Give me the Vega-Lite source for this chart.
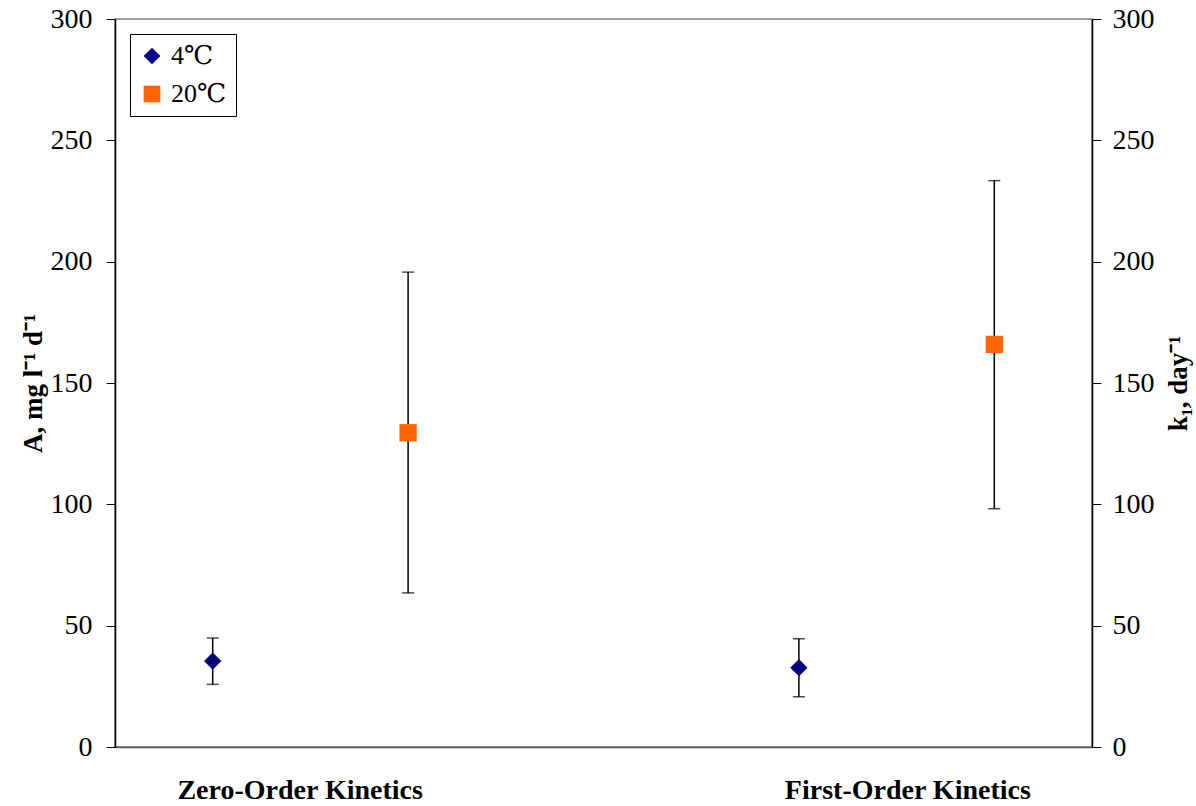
{
  "$schema": "https://vega.github.io/schema/vega-lite/v6.json",
  "width": 977,
  "height": 728,
  "autosize": {"type": "none"},
  "padding": {"left": 115, "top": 19, "right": 104, "bottom": 59},
  "background": "white",
  "config": {
    "view": {"stroke": "#808080", "strokeWidth": 1.5},
    "font": "Liberation Serif"
  },
  "data": {
    "values": [
      {"kinetics": "Zero-Order Kinetics", "series": "4℃", "pos": 1, "value": 35.4, "lo": 25.8, "hi": 44.9},
      {"kinetics": "Zero-Order Kinetics", "series": "20℃", "pos": 3, "value": 129.5, "lo": 63.5, "hi": 195.7},
      {"kinetics": "First-Order Kinetics", "series": "4℃", "pos": 7, "value": 32.7, "lo": 20.7, "hi": 44.6},
      {"kinetics": "First-Order Kinetics", "series": "20℃", "pos": 9, "value": 165.9, "lo": 98.2, "hi": 233.4}
    ]
  },
  "encoding": {
    "x": {
      "field": "pos", "type": "quantitative",
      "scale": {"domain": [0, 10], "nice": false, "zero": false},
      "axis": {
        "title": null, "grid": false, "ticks": false,
        "values": [1.89, 8.11],
        "labelExpr": "datum.value < 5 ? 'Zero-Order Kinetics' : 'First-Order Kinetics'",
        "labelFont": "Liberation Serif", "labelFontSize": 28, "labelFontWeight": "bold",
        "labelColor": "black", "labelPadding": 29, "labelBaseline": "top", "labelLimit": 0,
        "domainColor": "#555555", "domainWidth": 1.5
      }
    }
  },
  "layer": [
    {
      "encoding": {
        "y": {
          "type": "quantitative",
          "scale": {"domain": [0, 300], "nice": false},
          "axis": {
            "title": "A, mg l⁻¹ d⁻¹",
            "titleFont": "Liberation Serif", "titleFontSize": 27, "titleFontWeight": "bold", "titleColor": "black",
            "titlePadding": 3,
            "grid": false, "values": [0, 50, 100, 150, 200, 250, 300],
            "tickSize": 9, "tickColor": "black", "domainColor": "black", "domainWidth": 1.5,
            "labelFont": "Liberation Serif", "labelFontSize": 28, "labelColor": "black", "labelPadding": 14
          }
        }
      },
      "layer": [
        {
          "mark": {"type": "rule", "color": "black", "strokeWidth": 1.5},
          "encoding": {"y": {"field": "lo", "type": "quantitative"}, "y2": {"field": "hi"}}
        },
        {
          "mark": {"type": "tick", "color": "black", "thickness": 1.5, "size": 12, "orient": "horizontal"},
          "encoding": {"y": {"field": "lo", "type": "quantitative"}}
        },
        {
          "mark": {"type": "tick", "color": "black", "thickness": 1.5, "size": 12, "orient": "horizontal"},
          "encoding": {"y": {"field": "hi", "type": "quantitative"}}
        },
        {
          "mark": {"type": "point", "filled": true, "opacity": 1, "size": 300},
          "encoding": {
            "y": {"field": "value", "type": "quantitative"},
            "color": {
              "field": "series", "type": "nominal",
              "scale": {"domain": ["4℃", "20℃"], "range": ["#000080", "#FF6600"]},
              "legend": {
                "title": null, "orient": "none", "legendX": 15, "legendY": 15,
                "strokeColor": "black", "fillColor": "white", "padding": 9,
                "labelFont": "Liberation Serif, DejaVu Serif", "labelFontSize": 26, "labelColor": "black",
                "symbolSize": 280, "symbolOpacity": 1, "rowPadding": 12, "labelOffset": 6
              }
            },
            "shape": {
              "field": "series", "type": "nominal",
              "scale": {"domain": ["4℃", "20℃"], "range": ["diamond", "square"]}
            }
          }
        }
      ]
    },
    {
      "mark": {"type": "rule", "opacity": 0},
      "encoding": {
        "y": {
          "field": "value", "type": "quantitative",
          "scale": {"domain": [0, 300], "nice": false},
          "axis": {
            "orient": "right",
            "title": "k₁, day⁻¹",
            "titleFont": "Liberation Serif", "titleFontSize": 27, "titleFontWeight": "bold", "titleColor": "black",
            "titleAngle": 270, "titleX": 86, "titleY": 364, "titleAlign": "center", "titleBaseline": "middle",
            "grid": false, "values": [0, 50, 100, 150, 200, 250, 300],
            "tickSize": 9, "tickColor": "black", "domainColor": "black", "domainWidth": 1.5,
            "labelFont": "Liberation Serif", "labelFontSize": 28, "labelColor": "black", "labelPadding": 11
          }
        }
      }
    }
  ],
  "resolve": {"scale": {"y": "independent"}}
}
